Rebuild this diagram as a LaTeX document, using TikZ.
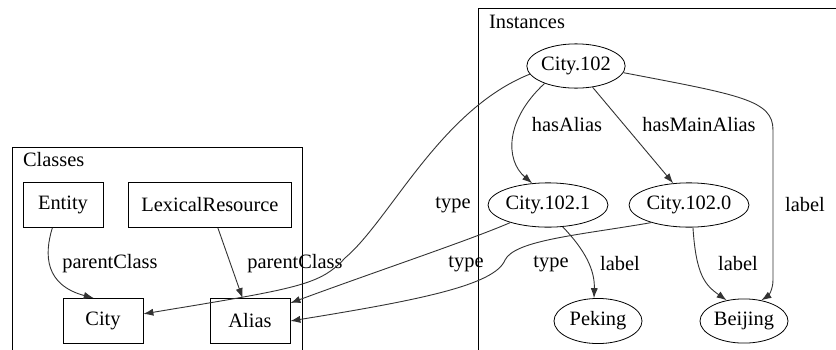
\documentclass[tikz,border=0pt]{standalone}
\usepackage{fontspec}
\setmainfont{Liberation Serif}
\usetikzlibrary{shapes.geometric,arrows.meta}
\tikzset{
  cls/.style={draw, rectangle, minimum width=40pt, minimum height=22.5pt, inner xsep=6.5pt},
  inst/.style={draw, ellipse, inner xsep=0pt, minimum width=44pt, minimum height=21.5pt},
  rel/.style={->, line width=0.45pt, draw=black!80}
}
\begin{document}
\begin{tikzpicture}[>={Latex[length=5pt,width=3.6pt]}, x=0.5pt, y=-0.5pt, font=\rmfamily\fontsize{10.2}{12}\selectfont]
\clip (0,0) rectangle (836,349);
% clusters
\draw (12,147) rectangle (302,360);
\node[right] at (16,160) {Classes};
\draw (478,8) rectangle (845,360);
\node[right] at (482,22) {Instances};

\node[cls] (entity) at (63,205) {Entity};
\node[cls] (lexres) at (210,205) {LexicalResource};
\node[cls] (city) at (103,321) {City};
\node[cls] (alias) at (250,321) {Alias};

\node[inst] (c102) at (576,66) {City.102};
\node[inst] (c1021) at (548,205) {City.102.1};
\node[inst] (c1020) at (689,205) {City.102.0};
\node[inst] (peking) at (598,321) {Peking};
\node[inst] (beijing) at (744,321) {Beijing};

% class edges
\draw[rel] (entity.-115) .. controls (44,255) and (45,285) .. (city.112);
\node at (110,264) {parentClass};
\draw[rel] (lexres.-71) -- (alias.108);
\node at (295,264) {parentClass};

% type edges
\draw[rel] (c102.190) .. controls (440,110) and (390,220) .. (345,258)
  .. controls (320,285) and (300,288) .. (city.10);
\node at (453,205) {type};
\draw[rel] (c1021.205) .. controls (470,240) and (380,270) .. (alias.24);
\node at (466,264) {type};
\draw[rel] (c1020.205) .. controls (580,235) and (515,240) .. (505,260)
  .. controls (495,285) and (420,300) .. (alias.east);
\node at (551,264) {type};

% instance edges
\draw[rel] (c102.209) .. controls (505,120) and (505,160) .. (c1021.126);
\node at (567,125) {hasAlias};
\draw[rel] (c102.-52) -- (c1020.126);
\node at (699,125) {hasMainAlias};
\draw[rel] (c102.-8) .. controls (740,95) and (773,100) .. (773,130) -- (773,280)
  .. controls (773,290) and (768,296) .. (beijing.50);
\node at (805,205) {label};
\draw[rel] (c1021.-56) .. controls (585,250) and (595,270) .. (peking.100);
\node at (620,264) {label};
\draw[rel] (c1020.-80) .. controls (696,275) and (705,285) .. (beijing.130);
\node at (738,264) {label};
\end{tikzpicture}
\end{document}
